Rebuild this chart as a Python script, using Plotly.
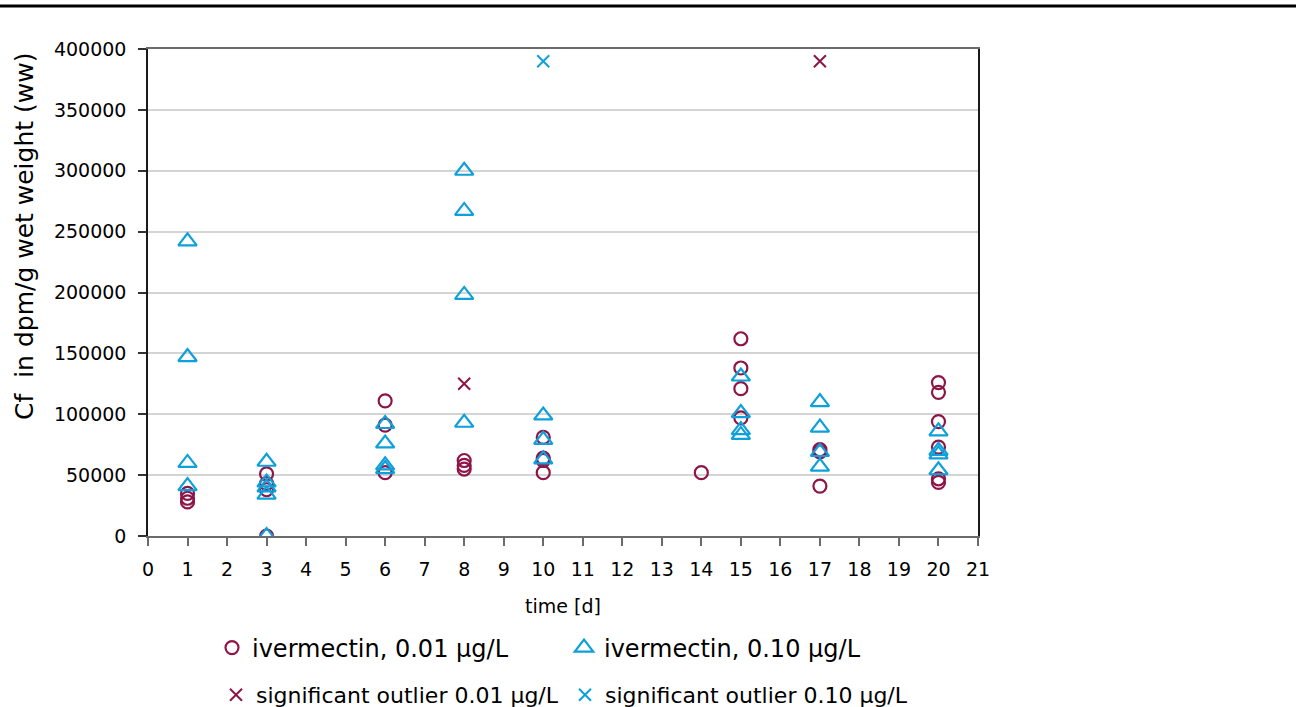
import plotly.graph_objects as go

# ---- data ----
days_low = [1, 1, 1,
            3, 3, 3, 3,
            6, 6, 6,
            8, 8, 8,
            10, 10, 10, 10,
            14,
            15, 15, 15, 15,
            17, 17, 17,
            20, 20, 20, 20, 20, 20]
cf_low = [35000, 31000, 28000,
          51000, 43000, 38000, 0,
          111000, 91000, 52000,
          62000, 58000, 55000,
          81000, 64000, 62000, 52000,
          52000,
          162000, 138000, 121000, 97000,
          71000, 69000, 41000,
          126000, 118000, 94000, 73000, 47000, 44000]

days_high = [1, 1, 1, 1,
             3, 3, 3, 3, 3,
             6, 6, 6, 6,
             8, 8, 8, 8,
             10, 10, 10,
             15, 15, 15, 15,
             17, 17, 17, 17,
             20, 20, 20, 20]
cf_high = [242000, 147000, 60000, 41000,
           61000, 44000, 40000, 34000, 0,
           92000, 76000, 58000, 55000,
           300000, 267000, 198000, 93000,
           99000, 79000, 63000,
           131000, 101000, 87000, 83000,
           110000, 89000, 69000, 57000,
           86000, 70000, 67000, 54000]

days_out_low = [8, 17]
cf_out_low = [125000, 390000]
days_out_high = [10]
cf_out_high = [390000]

x_ticks = list(range(0, 22))
y_ticks = [0, 50000, 100000, 150000, 200000, 250000, 300000, 350000, 400000]

# ---- styles ----
RED = "#8e1548"
BLUE = "#0ea0da"
FONT = "DejaVu Sans"

fig = go.Figure()
fig.add_trace(go.Scatter(
    x=days_low, y=cf_low, mode="markers", name="ivermectin, 0.01 µg/L",
    marker=dict(symbol="circle-open", size=13, color=RED, line=dict(width=2.2, color=RED)),
    legend="legend"))
fig.add_trace(go.Scatter(
    x=days_high, y=cf_high, mode="markers", name="ivermectin, 0.10 µg/L",
    marker=dict(symbol="triangle-up-open", size=16, color=BLUE, line=dict(width=2.2, color=BLUE)),
    legend="legend"))
fig.add_trace(go.Scatter(
    x=days_out_low, y=cf_out_low, mode="markers", name="significant outlier 0.01 µg/L",
    marker=dict(symbol="x-thin", size=12, color=RED, line=dict(width=2, color=RED)),
    legend="legend2"))
fig.add_trace(go.Scatter(
    x=days_out_high, y=cf_out_high, mode="markers", name="significant outlier 0.10 µg/L",
    marker=dict(symbol="x-thin", size=12, color=BLUE, line=dict(width=2, color=BLUE)),
    legend="legend2"))

L, R, T, B = 148, 318, 49, 171
PW = 1296 - L - R
PH = 707 - T - B

fig.update_layout(
    width=1296, height=707,
    margin=dict(l=L, r=R, t=T, b=B, autoexpand=False),
    paper_bgcolor="white", plot_bgcolor="white",
    font=dict(family=FONT, size=19, color="black"),
    showlegend=True,
    legend=dict(
        orientation="h", x=(212 - L) / PW, xanchor="left",
        y=(536 - 648) / PH, yanchor="middle",
        font=dict(family=FONT, size=24, color="black"),
        entrywidth=307, entrywidthmode="pixels",
        bgcolor="rgba(0,0,0,0)", borderwidth=0, tracegroupgap=0,
    ),
    legend2=dict(
        orientation="h", x=(216 - L) / PW, xanchor="left",
        y=(536 - 695) / PH, yanchor="middle",
        font=dict(family=FONT, size=22, color="black"),
        entrywidth=304, entrywidthmode="pixels",
        bgcolor="rgba(0,0,0,0)", borderwidth=0,
    ),
    xaxis=dict(
        range=[0, 21], tickmode="array", tickvals=x_ticks,
        ticktext=[str(v) for v in x_ticks],
        showgrid=False, zeroline=False,
        showline=True, linecolor="#6b6b6b", linewidth=1.5, mirror=True,
        ticks="outside", ticklen=8, tickwidth=1.5, tickcolor="#6b6b6b",
        ticklabelstandoff=7,
        tickfont=dict(family=FONT, size=19, color="black"),
        title=dict(text="time [d]", font=dict(family=FONT, size=19, color="black"), standoff=21),
    ),
    yaxis=dict(
        range=[0, 400000], tickmode="array", tickvals=y_ticks,
        ticktext=[str(v) for v in y_ticks],
        showgrid=True, gridcolor="#d4d4d4", gridwidth=1.5,
        zeroline=False,
        showline=True, linecolor="#1a1a1a", linewidth=1.5, mirror=True,
        ticks="outside", ticklen=8, tickwidth=1.5, tickcolor="#333333",
        ticklabelstandoff=8,
        tickfont=dict(family=FONT, size=19, color="black"),
    ),
    annotations=[dict(
        text="Cf  in dpm/g wet weight (ww)", textangle=-90,
        xref="paper", yref="paper",
        x=(25 - L) / PW, y=(536 - 237) / PH,
        xanchor="center", yanchor="middle", showarrow=False,
        font=dict(family=FONT, size=25, color="black"),
    )],
    shapes=[dict(
        type="line", xref="paper", yref="paper",
        x0=-L / PW, x1=(1296 - L) / PW,
        y0=(536 - 6) / PH, y1=(536 - 6) / PH,
        line=dict(color="black", width=3),
    )],
)

fig.write_html("out.html")
